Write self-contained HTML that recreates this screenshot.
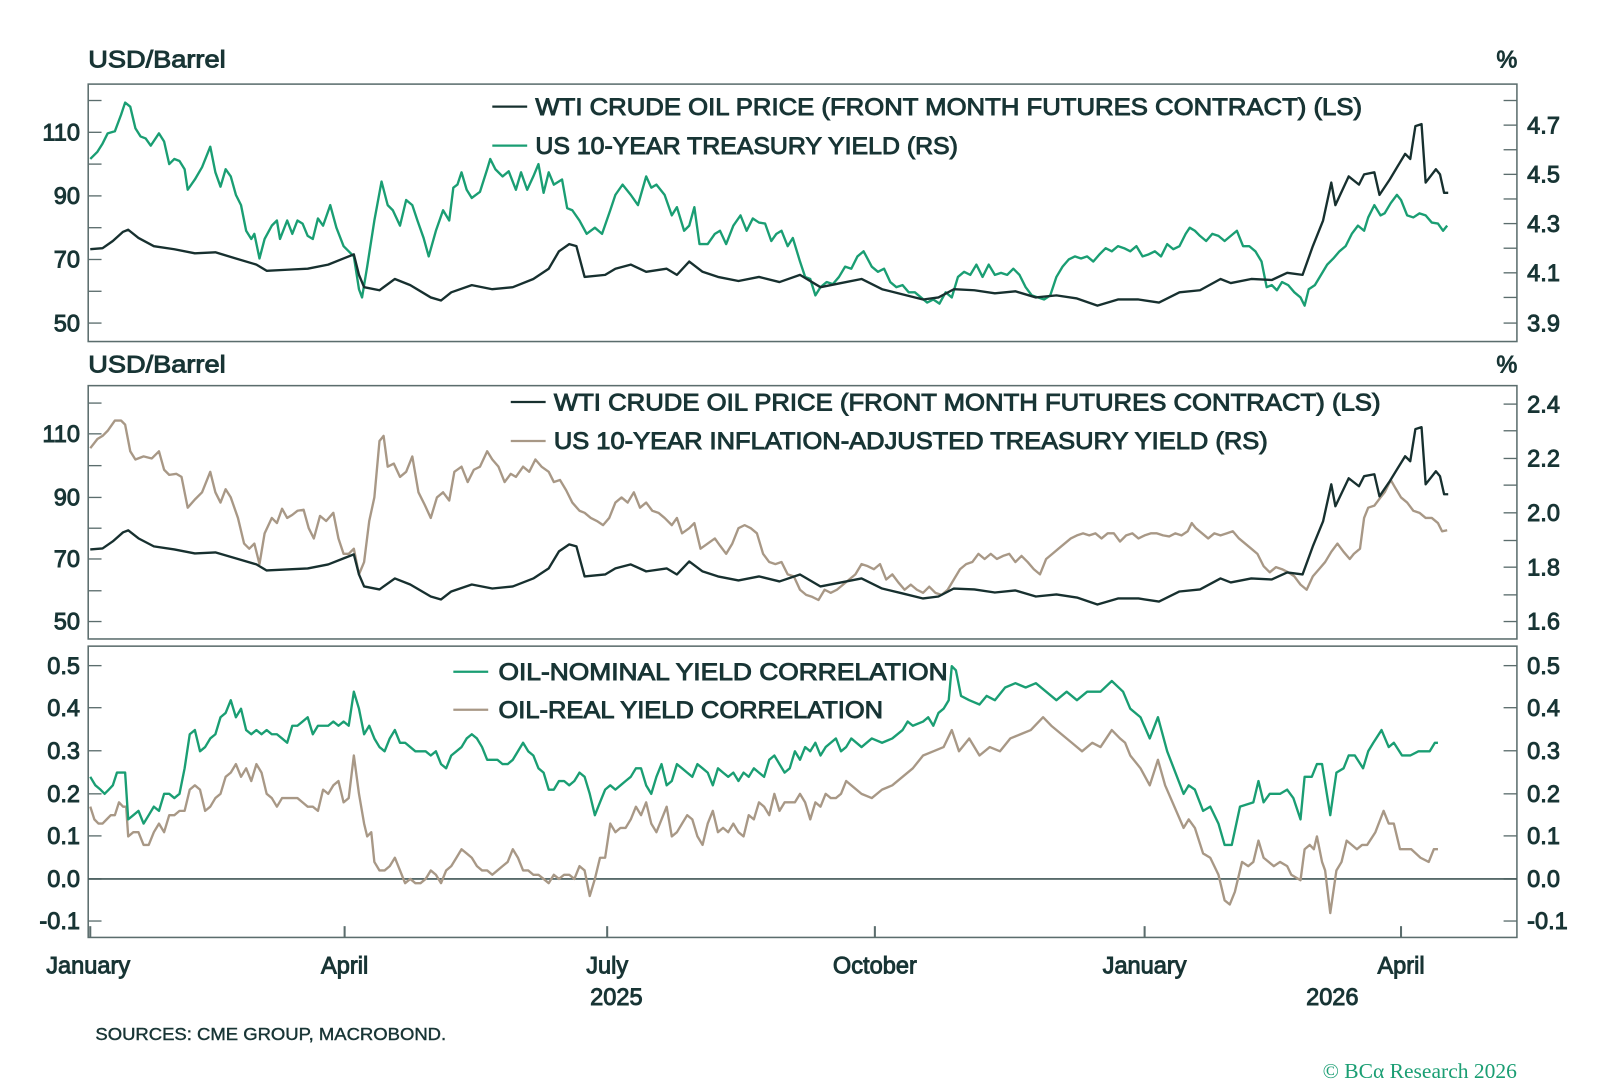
<!DOCTYPE html>
<html><head><meta charset="utf-8"><style>
html,body{margin:0;padding:0;background:#fff;}
svg{display:block;}
text{font-family:"Liberation Sans",sans-serif;fill:#183535;}
.t{font-size:23px;stroke:#183535;stroke-width:0.9px;}
.lg{font-size:23px;stroke:#183535;stroke-width:0.9px;}
</style></head><body>
<svg id="s" width="1600" height="1080" viewBox="0 0 1560 1053" xmlns="http://www.w3.org/2000/svg">
<g id="frames" fill="none" stroke="#5b6d6d" stroke-width="1.5">
<rect x="86" y="82" width="1393" height="251"/>
<rect x="86" y="376" width="1393" height="247"/>
<rect x="86" y="630" width="1393" height="284"/>
</g>
<g id="ticks" stroke="#5b6d6d" stroke-width="1.3"></g>
<line x1="86" y1="857" x2="1479" y2="857" stroke="#3f5555" stroke-width="1.6"/>
<g id="lines" fill="none" stroke-width="2.3" stroke-linejoin="round"></g>
<g id="labels"></g>
<text x="86" y="66" class="t" textLength="134" lengthAdjust="spacingAndGlyphs">USD/Barrel</text>
<text x="1459" y="66" class="t">%</text>
<text x="86" y="363" class="t" textLength="134" lengthAdjust="spacingAndGlyphs">USD/Barrel</text>
<text x="1459" y="363" class="t">%</text>
<line x1="480" y1="104" x2="514" y2="104" stroke="#17302f" stroke-width="2.2"/>
<text x="522" y="112" class="lg" textLength="806" lengthAdjust="spacingAndGlyphs">WTI CRUDE OIL PRICE (FRONT MONTH FUTURES CONTRACT) (LS)</text>
<line x1="480" y1="142" x2="514" y2="142" stroke="#1a9e73" stroke-width="2.2"/>
<text x="522" y="150" class="lg" textLength="412" lengthAdjust="spacingAndGlyphs">US 10-YEAR TREASURY YIELD (RS)</text>
<line x1="498" y1="392" x2="532" y2="392" stroke="#17302f" stroke-width="2.2"/>
<text x="540" y="400" class="lg" textLength="806" lengthAdjust="spacingAndGlyphs">WTI CRUDE OIL PRICE (FRONT MONTH FUTURES CONTRACT) (LS)</text>
<line x1="498" y1="430" x2="532" y2="430" stroke="#a89886" stroke-width="2.2"/>
<text x="540" y="438" class="lg" textLength="696" lengthAdjust="spacingAndGlyphs">US 10-YEAR INFLATION-ADJUSTED TREASURY YIELD (RS)</text>
<line x1="442" y1="655" x2="476" y2="655" stroke="#1a9e73" stroke-width="2.2"/>
<text x="486" y="663" class="lg" textLength="438" lengthAdjust="spacingAndGlyphs">OIL-NOMINAL YIELD CORRELATION</text>
<line x1="442" y1="692" x2="476" y2="692" stroke="#a89886" stroke-width="2.2"/>
<text x="486" y="700" class="lg" textLength="375" lengthAdjust="spacingAndGlyphs">OIL-REAL YIELD CORRELATION</text>
<text x="86" y="949" class="t" text-anchor="middle">January</text>
<text x="336" y="949" class="t" text-anchor="middle">April</text>
<text x="592" y="949" class="t" text-anchor="middle">July</text>
<text x="853" y="949" class="t" text-anchor="middle">October</text>
<text x="1116" y="949" class="t" text-anchor="middle">January</text>
<text x="1366" y="949" class="t" text-anchor="middle">April</text>
<text x="601" y="980" class="t" text-anchor="middle">2025</text>
<text x="1299" y="980" class="t" text-anchor="middle">2026</text>
<text x="93" y="1014" style="font-size:17px;stroke:#183535;stroke-width:0.4px" textLength="342" lengthAdjust="spacingAndGlyphs">SOURCES: CME GROUP, MACROBOND.</text>
<text x="1479" y="1051" text-anchor="end" style="font-family:'Liberation Serif',serif;font-size:21px;fill:#1a9e73">© BCα Research 2026</text>
</svg>
<script>
var NS="http://www.w3.org/2000/svg";
function el(p,t,a,txt){var e=document.createElementNS(NS,t);for(var k in a)e.setAttribute(k,a[k]);if(txt!==undefined)e.textContent=txt;document.getElementById(p).appendChild(e);}
function tk(y,side){if(side==0)el("ticks","line",{x1:86,x2:99,y1:y,y2:y});else el("ticks","line",{x1:1466,x2:1479,y1:y,y2:y});}
function lab(x,y,s,anc){el("labels","text",{x:x,y:y+8,"class":"t","text-anchor":anc},s);}
[[50,315],[70,253],[90,191],[110,129]].forEach(function(a){tk(a[1],0);lab(78,a[1],a[0],"end");});
[284,222,160,98].forEach(function(y){tk(y,0);});
[["3.9",315],["4.1",266],["4.3",218],["4.5",170],["4.7",122]].forEach(function(a){tk(a[1],1);lab(1489,a[1],a[0],"start");});
[290,242,194,146,98].forEach(function(y){tk(y,1);});
[[50,606],[70,545],[90,485],[110,423]].forEach(function(a){tk(a[1],0);lab(78,a[1],a[0],"end");});
[576,515,454,393].forEach(function(y){tk(y,0);});
[["1.6",606],["1.8",553],["2.0",500],["2.2",447],["2.4",394]].forEach(function(a){tk(a[1],1);lab(1489,a[1],a[0],"start");});
[580,527,473,420].forEach(function(y){tk(y,1);});
[["0.5",649],["0.4",690],["0.3",732],["0.2",774],["0.1",815],["0.0",857],["-0.1",898]].forEach(function(a){tk(a[1],0);tk(a[1],1);lab(78,a[1],a[0],"end");lab(1489,a[1],a[0],"start");});
[88,336,592,853,1116,1366].forEach(function(x){el("ticks","line",{x1:x,x2:x,y1:914,y2:903,"stroke-width":2});});
function poly(pts,col){el("lines","polyline",{points:pts.map(function(p){return p[0]+","+p[1].toFixed(1)}).join(" "),stroke:col});}
function P(a){var r=[];for(var i=0;i<a.length;i+=2)r.push([a[i],a[i+1]]);return r;}
var wti=P([88,243,100,242,110,235,120,226,125,224,135,232,150,240,170,243,190,247,210,246,230,252,250,258,260,264,280,263,300,262,320,258,335,252,345,248,350,268,355,280,370,283,385,272,400,278,420,290,430,293,440,285,460,278,480,282,500,280,520,272,535,262,545,245,555,238,562,240,570,270,590,268,600,262,615,258,630,265,650,262,660,268,672,255,685,265,700,270,720,274,740,270,760,275,780,268,800,280,820,276,840,272,860,282,880,287,900,292,915,290,930,282,950,283,970,286,990,284,1010,290,1030,288,1050,291,1070,298,1090,292,1110,292,1130,295,1150,285,1170,283,1190,272,1200,276,1220,272,1240,273,1255,266,1270,268,1280,240,1290,215,1298,178,1302,200,1315,172,1325,180,1330,170,1340,168,1345,190,1355,175,1370,150,1375,155,1380,123,1386,121,1390,178,1400,165,1404,170,1408,188,1412,188]);
var nom=P([88,155,95,148,100,140,105,130,112,128,118,112,122,100,127,104,132,125,137,133,142,135,147,142,155,130,160,138,165,160,170,155,175,157,180,165,183,185,190,175,197,163,205,143,210,168,215,182,220,165,225,172,230,190,235,200,240,225,245,233,248,228,253,252,258,233,265,220,270,215,273,233,280,215,285,228,290,215,295,218,300,230,305,233,310,213,315,220,322,200,328,222,335,240,340,245,345,250,350,282,353,290,358,260,365,215,372,177,378,200,383,205,390,220,396,195,402,200,407,215,413,232,418,250,425,225,432,205,438,215,442,183,446,180,450,168,455,185,460,193,468,187,475,165,478,155,483,165,490,172,496,167,503,185,508,168,514,185,520,172,525,160,530,188,535,168,540,180,548,175,553,203,558,205,565,215,572,228,580,222,587,228,595,205,600,190,607,180,615,190,622,200,630,172,635,183,640,180,648,190,655,210,660,202,667,225,672,220,677,202,682,238,690,238,697,228,702,225,708,238,715,220,722,210,728,225,734,213,740,217,746,218,752,235,757,228,762,225,768,240,773,232,780,255,785,270,790,272,795,288,800,280,806,275,812,277,818,270,824,260,830,262,836,250,842,245,850,260,856,265,862,262,868,275,874,280,880,278,886,285,892,285,898,290,904,295,910,292,916,296,922,285,928,290,934,270,940,265,946,268,952,258,958,270,964,258,970,268,976,266,982,268,988,262,994,268,1000,280,1006,288,1012,290,1018,292,1024,288,1030,270,1036,260,1042,253,1048,250,1054,252,1060,250,1066,255,1072,248,1078,242,1084,245,1090,240,1096,242,1102,245,1108,240,1114,250,1120,248,1126,245,1132,250,1138,238,1144,243,1150,240,1156,228,1160,222,1165,225,1170,230,1176,235,1182,228,1188,230,1194,235,1200,230,1206,225,1212,240,1218,240,1224,245,1230,255,1235,280,1240,278,1245,283,1250,275,1256,278,1262,285,1268,290,1272,298,1276,282,1282,278,1288,268,1294,258,1300,252,1306,245,1312,240,1318,228,1324,220,1330,225,1334,212,1340,200,1346,210,1350,208,1356,198,1362,190,1366,195,1372,210,1378,212,1384,208,1390,210,1396,217,1402,218,1407,225,1411,220]);
var real=P([88,437,95,428,100,425,105,420,112,410,118,410,122,414,127,440,132,448,140,445,148,447,155,440,160,458,165,463,172,462,177,465,183,495,190,487,197,480,205,460,210,480,215,490,220,477,225,485,232,505,238,530,243,535,248,530,253,550,258,520,265,505,270,510,275,496,280,505,285,502,290,498,296,497,301,515,306,525,312,503,318,508,325,500,330,525,335,540,340,540,345,535,350,560,355,548,360,508,365,485,370,430,374,425,378,455,384,452,390,465,396,460,402,445,408,480,414,492,420,505,426,485,432,480,438,488,443,460,450,455,456,470,462,458,468,455,475,440,480,448,486,455,492,470,498,462,503,465,510,455,516,460,522,448,528,455,535,460,540,470,546,468,552,478,558,490,565,498,570,500,576,505,582,508,588,512,594,505,600,490,606,485,612,490,618,480,624,495,630,490,636,498,642,500,648,505,655,512,660,505,665,520,672,515,677,510,683,535,690,530,697,525,702,532,708,540,714,530,720,515,726,512,732,515,738,520,744,540,750,548,756,550,762,548,768,560,774,562,780,575,786,580,792,582,798,585,804,575,810,578,816,575,822,570,828,565,834,560,840,550,846,552,852,555,858,550,864,565,870,560,876,568,882,575,888,570,894,575,900,578,906,572,912,578,918,580,924,575,930,565,936,555,942,550,948,548,954,540,960,545,966,540,972,545,978,542,984,540,990,548,996,542,1002,548,1008,555,1014,560,1020,545,1026,540,1032,535,1038,530,1044,525,1050,522,1056,520,1062,522,1068,520,1074,525,1080,520,1086,520,1092,528,1098,522,1104,520,1110,525,1116,522,1122,520,1128,520,1134,522,1140,523,1146,520,1152,522,1158,518,1162,510,1166,515,1172,520,1178,525,1184,520,1190,522,1196,520,1202,518,1208,525,1214,530,1220,535,1226,540,1232,552,1238,558,1244,553,1250,555,1256,558,1262,562,1268,570,1274,575,1280,562,1286,555,1292,548,1298,538,1304,530,1310,538,1316,545,1320,540,1326,535,1330,505,1334,495,1340,493,1346,485,1350,480,1356,468,1360,475,1366,485,1372,490,1378,498,1384,500,1390,505,1396,505,1402,510,1406,518,1411,517]);
function cy(v){return 857-415*v;}
function C(a){var r=[];for(var i=0;i<a.length;i+=2)r.push([a[i],cy(a[i+1])]);return r;}
var zx=function(z){return Math.round(1072.6+z*0.325);};
function Z(a){var r=[];for(var i=0;i<a.length;i+=2)r.push([zx(a[i]),cy(a[i+1])]);return r;}
var gc=C([88,.24,93,.22,98,.21,102,.20,106,.21,110,.22,114,.25,118,.25,122,.25,125,.14,130,.15,135,.16,140,.13,145,.15,150,.17,155,.16,160,.20,165,.20,170,.19,175,.20,180,.26,185,.34,190,.35,195,.30,200,.31,205,.33,210,.34,215,.38,220,.39,225,.42,230,.38,235,.40,240,.35,245,.34,250,.35,255,.34,260,.35,265,.34,270,.34,275,.33,280,.32,285,.36,290,.36,295,.37,300,.38,305,.34,310,.36,315,.36,320,.36,325,.37,330,.36,335,.37,340,.36,345,.44,350,.40,355,.34,360,.36,365,.33,370,.31,375,.30,380,.33,385,.35,390,.32,395,.32,400,.31,405,.30,410,.30,415,.30,420,.29,425,.30,430,.27,435,.26,440,.29,445,.30,450,.31,455,.33,460,.34,465,.33,470,.31,475,.28,480,.28,485,.28,490,.27,495,.27,500,.28,505,.30,510,.32,515,.30,520,.29,525,.26,530,.25,535,.21,540,.21,545,.23,550,.23,555,.22,560,.23,565,.25,570,.24,575,.20,580,.15,585,.18,590,.21,595,.22,600,.21,605,.22,610,.23,615,.24,620,.26,625,.26,630,.22,635,.20,640,.24,645,.27,650,.22,655,.23,660,.27,665,.26,670,.25,675,.24,680,.27,685,.26,690,.25,695,.22,700,.26,705,.25,710,.24,715,.25,720,.23,725,.25,730,.24,735,.26,740,.25,745,.24,750,.28,755,.29,760,.27,765,.25,770,.26,775,.30,780,.28,785,.31,790,.30,795,.32,800,.29,805,.31,810,.32,815,.33,820,.30,825,.31,830,.33,840,.31,850,.33,860,.32,870,.33,880,.35,885,.37,890,.36,900,.37,905,.38,910,.36,915,.39,920,.40,925,.42,928,.50,932,.49,937,.43,945,.42,955,.41,962,.43,970,.42,980,.45,990,.46,1000,.45,1010,.46,1020,.44,1030,.42,1040,.44,1050,.42,1060,.44]).concat(Z([0,.44,35,.465,70,.44,90,.40,120,.38,150,.33,175,.38,200,.30,250,.20,265,.22,285,.21,310,.16,330,.17,355,.13,375,.08,395,.08,420,.17,460,.18,475,.23,490,.18,510,.20,540,.20,560,.21,580,.19,600,.14,615,.24,635,.24,650,.27,665,.27,690,.15,710,.25,730,.26,745,.29,765,.29,790,.26,805,.30,820,.32,845,.35,865,.31,880,.32,905,.29,930,.29,955,.30,990,.30,1005,.32,1015,.32]));
var tc=C([88,.17,92,.14,96,.13,100,.13,104,.14,108,.15,112,.15,116,.18,120,.17,123,.17,125,.10,130,.11,135,.11,140,.08,145,.08,150,.11,155,.13,160,.11,165,.15,170,.15,175,.16,180,.16,185,.21,190,.22,195,.21,200,.16,205,.17,210,.19,215,.20,220,.24,225,.25,230,.27,235,.24,240,.26,245,.23,250,.27,255,.25,260,.20,265,.19,270,.17,275,.19,280,.19,285,.19,290,.19,295,.18,300,.17,305,.17,310,.16,315,.21,320,.20,325,.22,330,.23,335,.18,340,.19,345,.29,350,.20,355,.13,358,.10,362,.11,365,.04,370,.02,375,.02,380,.03,385,.05,390,.02,395,-.01,400,.00,405,-.01,410,-.01,415,.00,420,.02,425,.01,430,-.01,435,.02,440,.03,445,.05,450,.07,455,.06,460,.05,465,.03,470,.02,475,.02,480,.01,485,.02,490,.03,495,.04,500,.07,505,.05,510,.02,515,.02,520,.01,525,.01,530,.00,535,-.01,540,.01,545,.00,550,.01,555,.01,560,.00,565,.03,570,.02,575,-.04,580,.00,585,.05,590,.05,595,.13,600,.11,605,.12,610,.12,615,.14,620,.17,625,.15,630,.18,635,.13,640,.11,645,.14,650,.17,655,.10,660,.11,665,.13,670,.15,675,.14,680,.10,685,.08,690,.13,695,.16,700,.11,705,.12,710,.11,715,.13,720,.11,725,.10,730,.15,735,.14,740,.18,745,.17,750,.15,755,.20,760,.16,765,.18,770,.18,775,.18,780,.20,785,.18,790,.14,795,.18,800,.17,805,.20,810,.19,815,.19,820,.20,825,.23,830,.22,840,.20,850,.19,860,.21,870,.22,880,.24,890,.26,900,.29,910,.30,920,.31,928,.35,935,.30,945,.33,955,.29,965,.31,975,.30,985,.33,995,.34,1005,.35,1017,.38,1025,.36,1035,.34,1045,.32,1055,.30,1065,.32]).concat(Z([0,.31,35,.35,60,.33,75,.32,90,.29,120,.26,150,.22,175,.28,195,.22,250,.12,265,.14,285,.12,310,.06,330,.05,355,.01,375,-.05,390,-.06,405,-.03,425,.04,445,.03,460,.04,475,.09,490,.05,520,.03,540,.04,560,.03,575,.01,600,-.003,615,.07,630,.08,640,.07,650,.10,665,.04,675,.02,690,-.08,710,.02,725,.04,740,.09,770,.07,785,.08,800,.08,825,.11,850,.16,865,.13,880,.13,900,.07,935,.07,960,.05,985,.04,1000,.07,1015,.07]));
poly(nom,"#1a9e73");
poly(wti,"#17302f");
poly(real,"#a89886");
poly(wti.map(function(p){return [p[0],606-0.977*(315-p[1])];}),"#17302f");
poly(tc,"#a89886");
poly(gc,"#1a9e73");
</script>
</body></html>
